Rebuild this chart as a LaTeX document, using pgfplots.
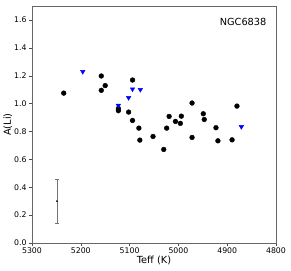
\documentclass[border=0pt]{standalone}
\usepackage{pgfplots}
\pgfplotsset{compat=1.18}
\usepackage{fontspec}
\setmainfont{DejaVu Sans}
\begin{document}
\begin{tikzpicture}[x=1bp,y=1bp]
\useasboundingbox (-32bp,-28bp) rectangle (259bp,243bp);
\begin{axis}[
  at={(0,0)}, anchor=south west,
  scale only axis, width=244bp, height=237bp,
  xmin=4800, xmax=5300, ymin=0, ymax=1.7,
  x dir=reverse,
  xtick={4800,4900,...,5300},
  ytick={0,0.2,...,1.6},
  yticklabel style={/pgf/number format/fixed,/pgf/number format/fixed zerofill,/pgf/number format/precision=1, xshift=1bp},
  xticklabel style={/pgf/number format/1000 sep={}, yshift=1.5bp},
  /pgf/number format/assume math mode=true,
  tick label style={font=\fontsize{7.8}{8}\selectfont},
  label style={font=\fontsize{9.8}{10}\selectfont},
  xlabel={Teff (K)}, ylabel={A(Li)},
  xlabel style={yshift=5bp},
  ylabel style={yshift=-5bp},
  tick align=outside, tick pos=left,
  major tick length=3bp,
  axis line style={black!60},
  every tick/.style={black!70},
  clip=false,
]
\addplot[only marks, mark=*, mark size=2.4bp, black] coordinates {
(5235,1.075) (5158,1.198) (5150,1.129) (5158,1.095) (5094,1.169)
(5123,0.965) (5123,0.949) (5102,0.939) (5094,0.879) (5081,0.824)
(5019,0.908) (5006,0.872) (4994,0.910) (4996,0.858) (4972,1.004)
(4949,0.927) (4947,0.886) (4880,0.982) (5024,0.824) (4923,0.827)
(5079,0.738) (5052,0.764) (5030,0.671) (4972,0.757) (4919,0.733)
(4890,0.740)
};
\addplot[only marks, mark=triangle*, mark size=2.6bp, blue, mark options={rotate=180}] coordinates {
(5196,1.229) (5094,1.104) (5078,1.100) (5102,1.042) (5123,0.987) (4871,0.834)
};
\addplot[only marks, mark=*, mark size=0.6bp, black,
  error bars/.cd, y dir=both, y explicit,
  error bar style={black!55, line width=0.7bp},
  error mark options={black!55, line width=0.7bp, mark size=1.8bp, rotate=90}]
  coordinates {(5249,0.30) +- (0,0.16)};
\node[anchor=north east, font=\fontsize{9.8}{10}\selectfont] at (rel axis cs:0.975,0.965) {NGC6838};
\end{axis}
\end{tikzpicture}
\end{document}
